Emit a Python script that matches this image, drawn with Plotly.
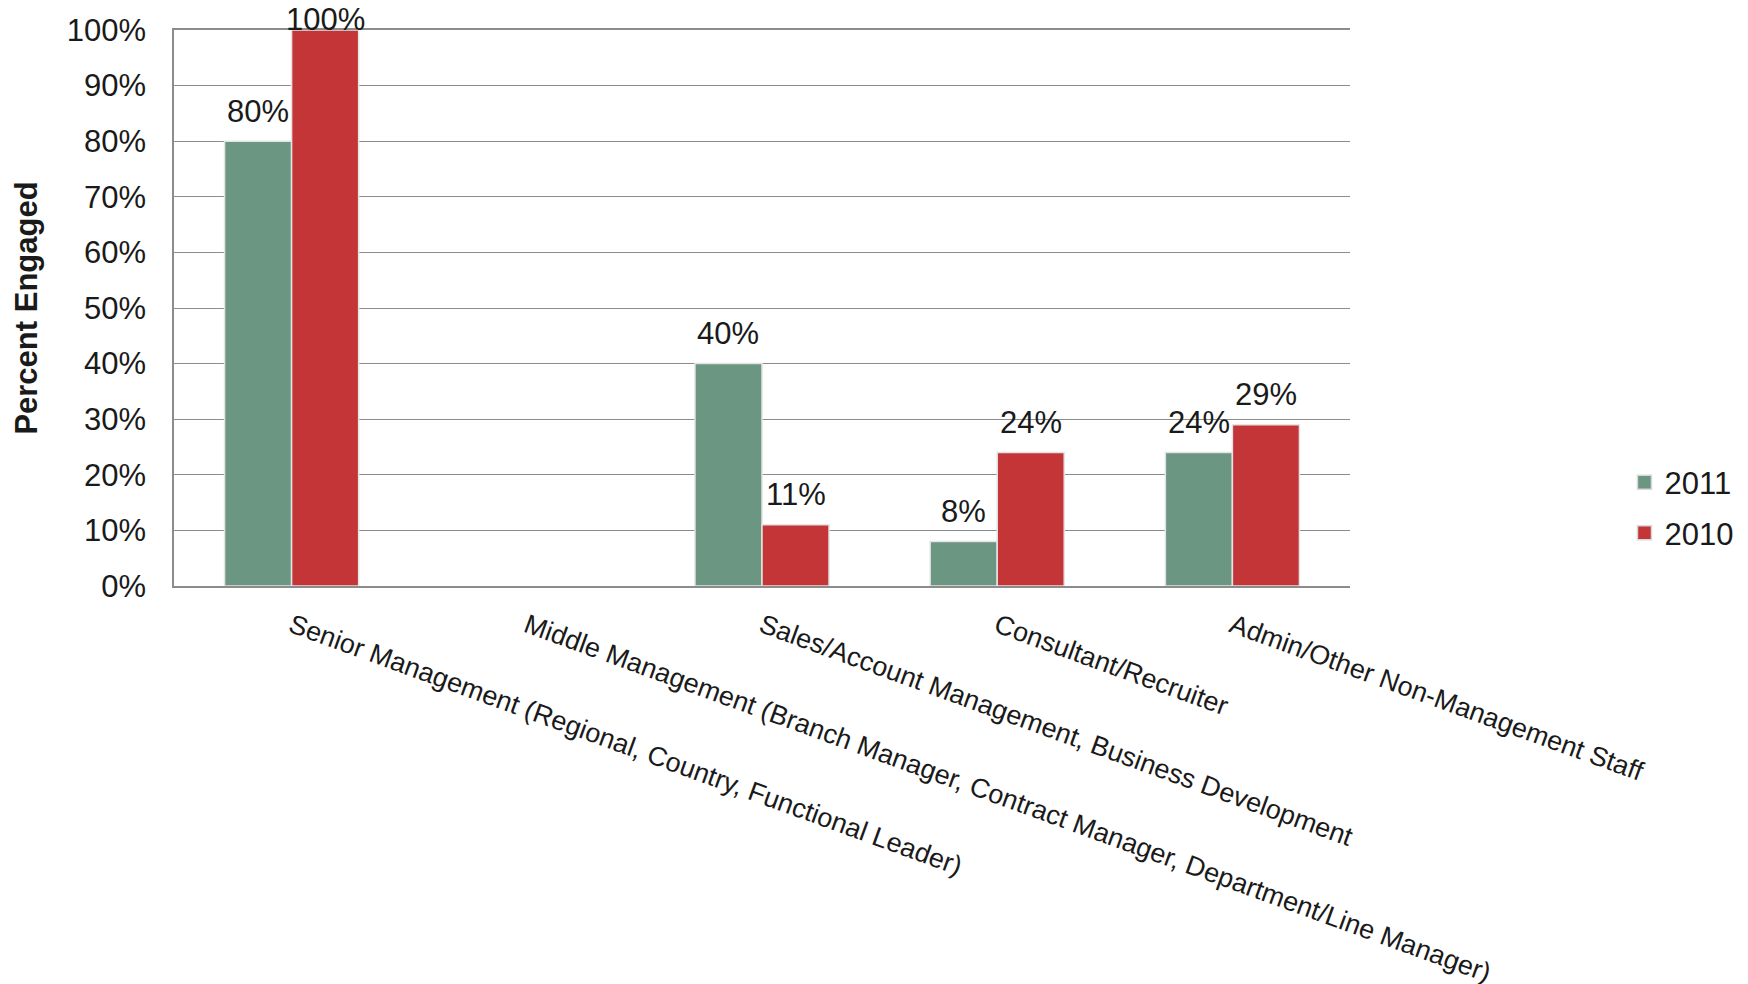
import plotly.graph_objects as go

categories = [
    "Senior Management (Regional, Country, Functional Leader)",
    "Middle Management (Branch Manager, Contract Manager, Department/Line Manager)",
    "Sales/Account Management, Business Development",
    "Consultant/Recruiter",
    "Admin/Other Non-Management Staff",
]
series_names = ["2011", "2010"]
values_2011 = [0.80, None, 0.40, 0.08, 0.24]
values_2010 = [1.00, None, 0.11, 0.24, 0.29]
y_ticks = [0, 0.1, 0.2, 0.3, 0.4, 0.5, 0.6, 0.7, 0.8, 0.9, 1.0]
y_tick_labels = ["0%", "10%", "20%", "30%", "40%", "50%", "60%", "70%", "80%", "90%", "100%"]

FONT = "Liberation Sans, Arial, sans-serif"
TXT = "#1a1a1a"
# page body has an 8px margin, so the figure is drawn 8px smaller
W, H = 1740, 976
PL, PT, PR, PB = 166, 22, 1342, 578  # plot area in figure px
GAP = 0.43

colors = {"2011": "#6a9682", "2010": "#c33536"}
series = {"2011": values_2011, "2010": values_2010}

# bar geometry (px) for placing the value labels over each bar
cat_w = (PR - PL) / len(categories)
bar_w = cat_w * (1 - GAP) / len(series_names)

fig = go.Figure()
annotations = []
for i, name in enumerate(series_names):
    vals = series[name]
    fig.add_trace(go.Bar(
        name=name, x=categories, y=vals, showlegend=False,
        marker=dict(color=colors[name], line=dict(color="#e4e4e4", width=1.5)),
        hoverinfo="skip",
    ))
    xoff = (i - (len(series_names) - 1) / 2) * bar_w
    for c, v in zip(categories, vals):
        if v is None:
            continue
        annotations.append(dict(
            x=c, y=v, xref="x", yref="y", text=f"{round(v * 100)}%",
            showarrow=False, xanchor="center", yanchor="middle",
            xshift=xoff, yshift=11 if v > 0.95 else 30,
            font=dict(family=FONT, size=31, color=TXT),
        ))
for name in series_names:
    fig.add_trace(go.Scatter(
        x=[None], y=[None], mode="markers", name=name, legendgroup=name,
        marker=dict(symbol="square", size=14, color=colors[name],
                    line=dict(color="#d8d8d8", width=1.5)),
    ))

fig.update_layout(
    width=W, height=H, template="none",
    paper_bgcolor="white", plot_bgcolor="white",
    font=dict(family=FONT, color=TXT),
    margin=dict(l=PL, r=W - PR, t=PT, b=H - PB, autoexpand=False),
    barmode="group", bargap=GAP, bargroupgap=0.0,
    annotations=annotations,
    showlegend=True,
    legend=dict(xref="container", yref="container", x=0.929, y=0.488,
                xanchor="left", yanchor="middle",
                font=dict(family=FONT, size=31, color=TXT),
                traceorder="grouped", tracegroupgap=7, itemwidth=30,
                bgcolor="rgba(0,0,0,0)"),
)
fig.update_xaxes(
    tickangle=20, tickfont=dict(family=FONT, size=27, color=TXT),
    showline=True, linecolor="#8c8c8c", linewidth=1.5, mirror=True,
    showgrid=False, automargin=False, ticks="", ticklabelstandoff=12,
)
fig.update_yaxes(
    range=[0, 1], tickvals=y_ticks, ticktext=y_tick_labels,
    tickfont=dict(family=FONT, size=31, color=TXT),
    showgrid=True, gridcolor="#8c8c8c", gridwidth=1.2,
    showline=True, linecolor="#8c8c8c", linewidth=1.5,
    zeroline=False, ticks="", ticklabelstandoff=20, automargin=False,
    title=dict(text="<b>Percent Engaged</b>", font=dict(family=FONT, size=31, color=TXT), standoff=20),
)
fig.write_html("out.html")
